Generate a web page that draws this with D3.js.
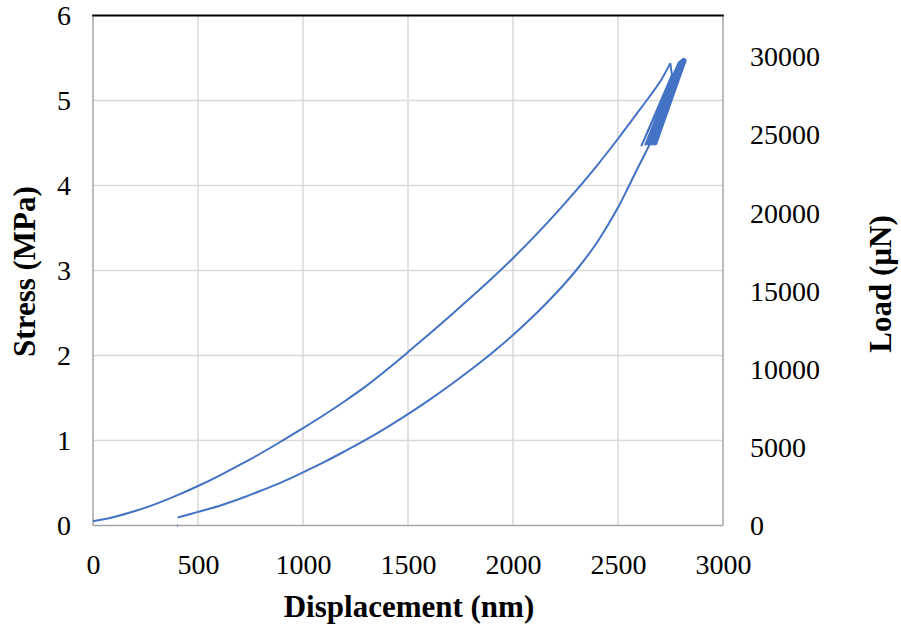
<!DOCTYPE html>
<html>
<head>
<meta charset="utf-8">
<script src="https://cdn.jsdelivr.net/npm/d3@7"></script>
<style>
  html, body { margin: 0; padding: 0; background: #fff; }
  svg { display: block; }
</style>
</head>
<body>
<div id="chart"></div>
<script>
// ── Data ────────────────────────────────────────────────────────
const loadDisp   = [0, 100, 200, 300, 400, 500, 600, 700, 800, 900, 1000, 1100, 1200, 1300, 1400, 1500, 1600, 1700, 1800, 1900, 2000, 2100, 2200, 2300, 2400, 2500, 2600, 2700, 2749];
const loadStress = [0.05, 0.10, 0.17, 0.255, 0.355, 0.465, 0.585, 0.715, 0.85, 0.995, 1.145, 1.30, 1.465, 1.64, 1.835, 2.04, 2.25, 2.465, 2.685, 2.91, 3.145, 3.395, 3.66, 3.94, 4.235, 4.55, 4.88, 5.22, 5.44];

// hold + cyclic part near the peak
const cycleDisp   = [2749, 2757, 2612, 2790, 2630, 2796, 2638, 2801, 2645, 2806, 2652, 2811, 2660, 2815, 2668, 2819, 2675, 2822, 2682, 2822];
const cycleStress = [5.44, 5.30, 4.47, 5.45, 4.48, 5.46, 4.49, 5.47, 4.48, 5.48, 4.49, 5.49, 4.48, 5.49, 4.49, 5.48, 4.48, 5.48, 4.49, 5.47];

const unloadDisp   = [2822, 2740, 2660, 2600, 2550, 2500, 2400, 2300, 2200, 2100, 2000, 1900, 1800, 1700, 1600, 1500, 1400, 1300, 1200, 1100, 1000, 900, 800, 700, 600, 500, 403];
const unloadStress = [5.47, 4.99, 4.53, 4.235, 3.985, 3.74, 3.33, 3.0, 2.72, 2.47, 2.24, 2.03, 1.835, 1.65, 1.475, 1.31, 1.155, 1.01, 0.875, 0.745, 0.625, 0.51, 0.41, 0.315, 0.23, 0.16, 0.094];

// last recorded point sits apart on the axis
const tailDisp   = [400, 405];
const tailStress = [0.0, 0.0];

const xTicks  = [0, 500, 1000, 1500, 2000, 2500, 3000];
const yTicks  = [0, 1, 2, 3, 4, 5, 6];
const yRTicks = [0, 5000, 10000, 15000, 20000, 25000, 30000];

// ── Layout ───────────────────────────────────────────────────────
const W = 901, H = 628;
const plot = { left: 93, right: 723, top: 15.5, bottom: 525.5 };
const FONT = "'Liberation Serif','Times New Roman',serif";
const BLUE = '#4472C4';

const svg = d3.select('#chart').append('svg')
  .attr('width', W).attr('height', H)
  .attr('viewBox', `0 0 ${W} ${H}`);

const x  = d3.scaleLinear().domain([0, 3000]).range([plot.left, plot.right]);
const y  = d3.scaleLinear().domain([0, 6]).range([plot.bottom, plot.top]);
const yR = d3.scaleLinear().domain([0, 32650]).range([plot.bottom, plot.top]);

// ── Gridlines ────────────────────────────────────────────────────
svg.append('g')
  .selectAll('line')
  .data(xTicks.filter(d => d > 0 && d < 3000))
  .join('line')
  .attr('x1', d => x(d)).attr('x2', d => x(d))
  .attr('y1', plot.top).attr('y2', plot.bottom)
  .attr('stroke', '#d9d9d9').attr('stroke-width', 1.5);

svg.append('g')
  .selectAll('line')
  .data(yTicks.filter(d => d > 0 && d < 6))
  .join('line')
  .attr('x1', plot.left).attr('x2', plot.right)
  .attr('y1', d => y(d)).attr('y2', d => y(d))
  .attr('stroke', '#d9d9d9').attr('stroke-width', 1.5);

// ── Frame ────────────────────────────────────────────────────────
svg.append('line')
  .attr('x1', plot.right).attr('x2', plot.right)
  .attr('y1', plot.top).attr('y2', plot.bottom)
  .attr('stroke', '#a6a6a6').attr('stroke-width', 1.5);
svg.append('line')
  .attr('x1', plot.left).attr('x2', plot.right)
  .attr('y1', plot.bottom).attr('y2', plot.bottom)
  .attr('stroke', '#a6a6a6').attr('stroke-width', 1.5);
svg.append('line')
  .attr('x1', plot.left).attr('x2', plot.left)
  .attr('y1', plot.top).attr('y2', plot.bottom)
  .attr('stroke', '#a6a6a6').attr('stroke-width', 1.5);
svg.append('line')
  .attr('x1', plot.left - 0.75).attr('x2', plot.right + 0.75)
  .attr('y1', plot.top).attr('y2', plot.top)
  .attr('stroke', '#000').attr('stroke-width', 2);

// ── Axes (labels only, no tick marks) ───────────────────────────
const xAxis = svg.append('g')
  .attr('transform', `translate(0,${plot.bottom})`)
  .call(d3.axisBottom(x).tickValues(xTicks).tickSize(0).tickFormat(d3.format('d')));
const yAxis = svg.append('g')
  .attr('transform', `translate(${plot.left},0)`)
  .call(d3.axisLeft(y).tickValues(yTicks).tickSize(0).tickPadding(22).tickFormat(d3.format('d')));
const yRAxis = svg.append('g')
  .attr('transform', `translate(${plot.right},0)`)
  .call(d3.axisRight(yR).tickValues(yRTicks).tickSize(0).tickPadding(27).tickFormat(d3.format('d')));

[xAxis, yAxis, yRAxis].forEach(g => {
  g.select('.domain').remove();
  g.selectAll('text')
    .attr('font-family', FONT)
    .attr('font-size', 28)
    .attr('fill', '#000');
});
xAxis.selectAll('text').attr('dy', null).attr('y', 48);

// ── Axis titles ──────────────────────────────────────────────────
svg.append('text')
  .attr('x', (plot.left + plot.right) / 2 + 1).attr('y', 617)
  .attr('text-anchor', 'middle')
  .attr('font-family', FONT).attr('font-weight', 'bold').attr('font-size', 31)
  .text('Displacement (nm)');

svg.append('text')
  .attr('transform', `translate(35,${(plot.top + plot.bottom) / 2 + 1}) rotate(-90)`)
  .attr('text-anchor', 'middle')
  .attr('font-family', FONT).attr('font-weight', 'bold').attr('font-size', 31)
  .text('Stress (MPa)');

svg.append('text')
  .attr('transform', `translate(891,284) rotate(-90)`)
  .attr('text-anchor', 'middle')
  .attr('font-family', FONT).attr('font-weight', 'bold').attr('font-size', 31)
  .text('Load (µN)');

// ── Curve ────────────────────────────────────────────────────────
const zip = (xs, ys) => xs.map((d, i) => [d, ys[i]]);
const smooth = d3.line().x(d => x(d[0])).y(d => y(d[1])).curve(d3.curveCatmullRom.alpha(0.5));
const straight = d3.line().x(d => x(d[0])).y(d => y(d[1]));

const curve = svg.append('g')
  .attr('fill', 'none').attr('stroke', BLUE).attr('stroke-width', 2)
  .attr('stroke-linejoin', 'round');

curve.append('path').attr('d', smooth(zip(loadDisp, loadStress)));
curve.append('path').attr('d', straight(zip(cycleDisp, cycleStress)));
curve.append('path').attr('d', smooth(zip(unloadDisp, unloadStress)));
curve.append('path').attr('d', straight(zip(tailDisp, tailStress)));
</script>
</body>
</html>
